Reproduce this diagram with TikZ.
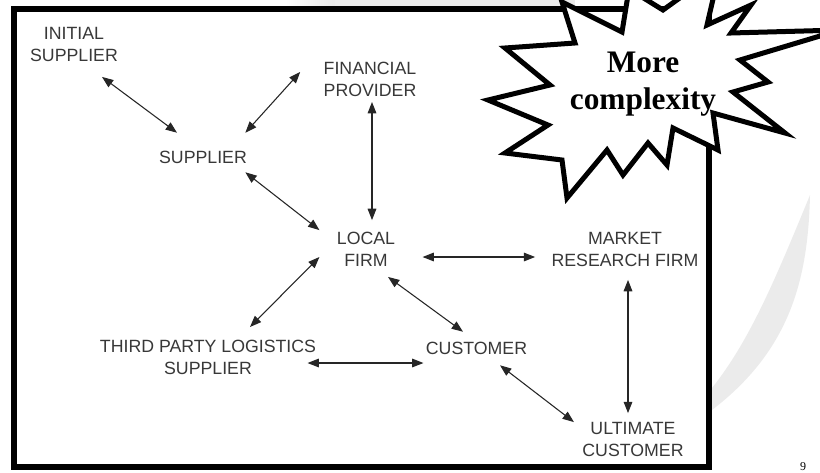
\documentclass[tikz,border=0pt]{standalone}
\usepackage{fontspec}
\setmainfont{Liberation Sans}
\newfontfamily\burstfont{Liberation Serif}
\usetikzlibrary{arrows.meta}
\tikzset{every picture/.style={line width=0.75pt}}
\tikzset{
  lbl/.style={inner sep=0pt, align=center, text=black!78, font=\fontsize{13.3}{16.1}\selectfont},
  twoway/.style={{Triangle[length=8.5pt,width=6.5pt]}-{Triangle[length=8.5pt,width=6.5pt]}, line width=0.8pt, draw=black!85},
  wmark/.style={fill=black!8},
  burst/.style={line width=3.75pt, draw=black, fill=white, miter limit=12},
}

\begin{document}
\begin{tikzpicture}[x=0.75pt,y=0.75pt,yscale=-1,xscale=1]
    \useasboundingbox (0,0) rectangle (820,472);

    %Shape: Watermark arc
    \shade [left color=white,right color=black!9] (285,-2) rectangle (335,9);
    \fill [wmark] (335,-2) rectangle (575,9);
    \fill [wmark] (810,195) .. controls (808,280) and (790,350) .. (712,410) -- (712,388) .. controls (750,340) and (775,280) .. (810,195) -- cycle;
    %Shape: Rectangle [frame]
    \draw [line width=5.2pt, fill=white] (14,9) rectangle (709,467);

    % Text Node
    \node [lbl] (isup) at (74,44.5) {INITIAL\\SUPPLIER};
    % Text Node
    \node [lbl] (fin) at (370,79.5) {FINANCIAL\\PROVIDER};
    % Text Node
    \node [lbl] (sup) at (203,157.5) {SUPPLIER};
    % Text Node
    \node [lbl] (lf) at (366,249.5) {LOCAL\\FIRM};
    % Text Node
    \node [lbl] (mrf) at (625,249.5) {MARKET\\RESEARCH FIRM};
    % Text Node
    \node [lbl] (tpl) at (208,357.5) {THIRD PARTY LOGISTICS\\SUPPLIER};
    % Text Node
    \node [lbl] (cust) at (476.5,348.5) {CUSTOMER};
    % Text Node
    \node [lbl] (ucust) at (633,439.5) {ULTIMATE\\CUSTOMER};

    %Straight Lines
    \draw [twoway] ([shift={(28,15)}]isup.south) -- ([shift={(-26,-18)}]sup.north);
    \draw [twoway] ([shift={(-23,-7.5)}]fin.west) -- ([shift={(-2,-18)}]sup.north east);
    \draw [twoway] ([shift={(2,5)}]fin.south) -- ([shift={(6,-12)}]lf.north);
    \draw [twoway] ([shift={(-2,8)}]sup.south east) -- ([shift={(-17,-2)}]lf.north west);
    \draw [twoway] ([shift={(-17,7.5)}]lf.west) -- ([shift={(42,-13)}]tpl.north);
    \draw [twoway] ([shift={(22,10)}]lf.south) -- ([shift={(-13.5,-10)}]cust.north);
    \draw [twoway] ([shift={(27,7.5)}]lf.east) -- ([shift={(-16,7.5)}]mrf.west);
    \draw [twoway] ([shift={(-9,5.5)}]tpl.east) -- ([shift={(-2,14.5)}]cust.west);
    \draw [twoway] ([shift={(3,13)}]mrf.south) -- ([shift={(-5,-9)}]ucust.north);
    \draw [twoway] ([shift={(23.5,10)}]cust.south) -- ([shift={(-8,0)}]ucust.north west);

    %Shape: Star burst
    \draw [burst] (562,2) -- (622,32) -- (629,-11) -- (663,10) -- (720,-31) -- (707,25) -- (751,5) -- (731,33) -- (840,30) -- (740,60) -- (768,82) -- (733,92) -- (785,133) -- (713,113) -- (718,150) -- (673,128) -- (667,165) -- (648,143) -- (623,175) -- (607,150) -- (567,198) -- (562,160) -- (505,153) -- (548,125) -- (488,100) -- (550,85) -- (505,48) -- (575,43) -- cycle;
    % Text Node
    \node [inner sep=0pt, align=center, font=\burstfont\bfseries\fontsize{23.5}{27.7}\selectfont] (more) at (643,84.5) {More\\complexity};
    % Text Node
    \node [anchor=south, inner sep=0pt, font=\burstfont\fontsize{9}{10}\selectfont] (pg) at (803,471) {9};
\end{tikzpicture}
\end{document}
